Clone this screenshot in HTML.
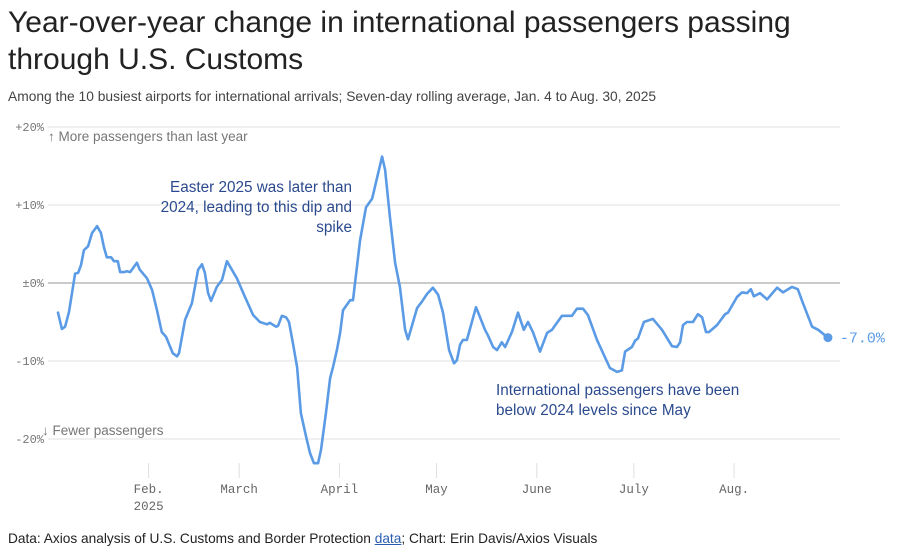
<!DOCTYPE html>
<html><head><meta charset="utf-8">
<style>
body{margin:0;background:#fff;width:897px;height:552px;overflow:hidden;font-family:"Liberation Sans",sans-serif;}
.title{position:absolute;left:8px;top:4px;font-size:30px;line-height:37px;color:#222;letter-spacing:0px}
.sub{position:absolute;left:8px;top:89px;font-size:13.8px;color:#444}
.foot{position:absolute;left:8px;top:531px;font-size:13.7px;color:#222}
.foot a{color:#2a5db0;text-decoration:underline}
svg{position:absolute;left:0;top:0}
</style></head><body>
<div class="title">Year-over-year change in international passengers passing<br>through U.S. Customs</div>
<div class="sub">Among the 10 busiest airports for international arrivals; Seven-day rolling average, Jan. 4 to Aug. 30, 2025</div>
<svg id="chart" width="897" height="552"></svg>
<div class="foot">Data: Axios analysis of U.S. Customs and Border Protection <a>data</a>; Chart: Erin Davis/Axios Visuals</div>
<script>
const days=[0,1.2,2.2,3.4,5.3,6.2,7.1,8.0,9.3,10.5,12.1,13.3,14.2,15.1,16.4,17.3,18.5,19.2,20.4,21.3,22.3,24.4,25.3,27.5,29.1,30.6,32.1,33.4,35.5,36.8,37.4,39.3,41.4,43.3,44.5,45.4,46.4,47.3,49.1,50.7,52.2,55.3,57.8,60.3,62.4,64.6,65.5,67.4,68.0,69.2,70.5,71.4,72.6,73.9,75.1,76.7,77.9,79.1,80.4,81.3,82.8,84.1,85.0,86.2,87.2,88.1,90.3,91.2,93.4,95.2,97.1,100.2,101.1,102.6,104.2,105.7,107.3,108.2,111.0,112.5,114.1,115.9,117.5,119.0,120.9,122.4,123.3,124.3,125.2,126.4,129.2,129.8,132.0,132.9,134.5,135.7,137.2,138.2,140.3,142.2,144.0,145.3,146.8,149.0,151.2,152.7,155.8,158.9,160.4,162.3,163.8,166.6,170.6,172.8,174.3,175.3,177.4,178.4,179.3,181.1,183.9,186.7,189.8,191.3,192.3,193.2,194.4,196.3,197.8,199.1,200.3,201.2,203.7,206.2,207.1,209.9,211.4,213.0,214.2,215.1,217.0,219.2,222.3,224.1,226.9,228.7,230.3,233.1,235.0,238];
const values=[-3.8,-5.9,-5.6,-3.7,1.2,1.3,2.3,4.2,4.7,6.4,7.3,6.4,4.6,3.3,3.3,2.8,2.8,1.4,1.4,1.5,1.4,2.6,1.7,0.6,-0.9,-3.5,-6.3,-6.9,-9.0,-9.4,-9.0,-4.7,-2.6,1.7,2.4,1.3,-1.3,-2.3,-0.5,0.4,2.8,0.6,-1.8,-4.1,-5.0,-5.3,-5.1,-5.6,-5.5,-4.2,-4.4,-5.0,-7.7,-10.8,-16.7,-19.7,-21.8,-23.1,-23.1,-21.4,-16.7,-12.2,-10.8,-8.6,-6.4,-3.5,-2.2,-2.2,5.5,9.7,10.8,16.2,14.5,8.5,2.6,-0.5,-6.0,-7.2,-3.2,-2.4,-1.4,-0.6,-1.5,-3.8,-8.6,-10.3,-9.9,-7.9,-7.3,-7.3,-3.1,-3.7,-6.0,-6.7,-8.2,-8.6,-7.6,-8.2,-6.3,-3.8,-6.0,-5.0,-6.3,-8.8,-6.4,-6.0,-4.2,-4.2,-3.3,-3.3,-4.1,-7.3,-10.9,-11.4,-11.2,-8.8,-8.2,-7.4,-7.1,-5.0,-4.6,-6.0,-8.1,-8.2,-7.6,-5.4,-5.0,-5.0,-4.0,-4.4,-6.3,-6.3,-5.4,-4.0,-3.8,-1.8,-1.2,-1.3,-0.8,-1.7,-1.3,-2.1,-0.6,-1.2,-0.5,-0.8,-2.6,-5.6,-6.0,-7.0];
const yTicks=[20,10,0,-10,-20];
const yTickLabels=["+20%","+10%","±0%","-10%","-20%"];
const monthDays=[28,56,87,117,148,178,209];
const monthLabels=["Feb.","March","April","May","June","July","Aug."];
const endLabel="-7.0%";

const NS="http://www.w3.org/2000/svg";
const svg=document.getElementById('chart');
const X=d=>58+d*3.235;
const Y=v=>283-v*7.8;
function mk(tag,attrs,txt){const e=document.createElementNS(NS,tag);for(const k in attrs)e.setAttribute(k,attrs[k]);if(txt!=null)e.textContent=txt;svg.appendChild(e);return e;}
yTicks.forEach((t,i)=>{
  const g=mk('line',{x1:48,x2:840,y1:Y(t),y2:Y(t),stroke:t===0?'#b8b8b8':'#e2e2e2','stroke-width':t===0?1.5:1});
  
  
  const l=mk('text',{x:44,y:Y(t)+4,'text-anchor':'end','font-family':'Liberation Mono, monospace','font-size':12,fill:'#777'},yTickLabels[i]);
  
  
});
monthDays.forEach((d,i)=>{
  const t=mk('line',{x1:X(d),x2:X(d),y1:463,y2:478,stroke:'#e0e0e0','stroke-width':1});
  
  
  const l=mk('text',{x:X(d),y:493,'text-anchor':'middle','font-family':'Liberation Mono, monospace','font-size':12.5,fill:'#666'},monthLabels[i]);
  
  
});
const yr=mk('text',{x:X(monthDays[0]),y:510,'text-anchor':'middle','font-family':'Liberation Mono, monospace','font-size':12.5,fill:'#666'},'2025');


const up=mk('text',{x:48,y:141,'font-size':13.5,fill:'#777'},'↑ More passengers than last year');


const dn=mk('text',{x:42,y:435,'font-size':13.5,fill:'#777'},'↓ Fewer passengers');


[['Easter 2025 was later than',192],['2024, leading to this dip and',212],['spike',232]].forEach(a=>{
  const t=mk('text',{x:352,y:a[1],'text-anchor':'end','font-size':15.3,fill:'#2b4a8e'},a[0]);
  
  
});
[['International passengers have been',395],['below 2024 levels since May',415]].forEach(a=>{
  const t=mk('text',{x:496,y:a[1],'font-size':15.3,fill:'#2b4a8e'},a[0]);
  
  
});
const p=mk('path',{d:days.map((d,i)=>(i?'L':'M')+X(d).toFixed(1)+','+Y(values[i]).toFixed(1)).join(''),fill:'none',stroke:'#5b9be6','stroke-width':2.6,'stroke-linejoin':'round','stroke-linecap':'round'});


const last=days.length-1;
const dot=mk('circle',{cx:X(days[last]),cy:Y(values[last]),r:4.5,fill:'#5b9be6'});


const el=mk('text',{x:X(days[last])+12,y:Y(values[last])+5,'font-family':'Liberation Mono, monospace','font-size':15,fill:'#5b9be6'},endLabel);


</script>
</body></html>
